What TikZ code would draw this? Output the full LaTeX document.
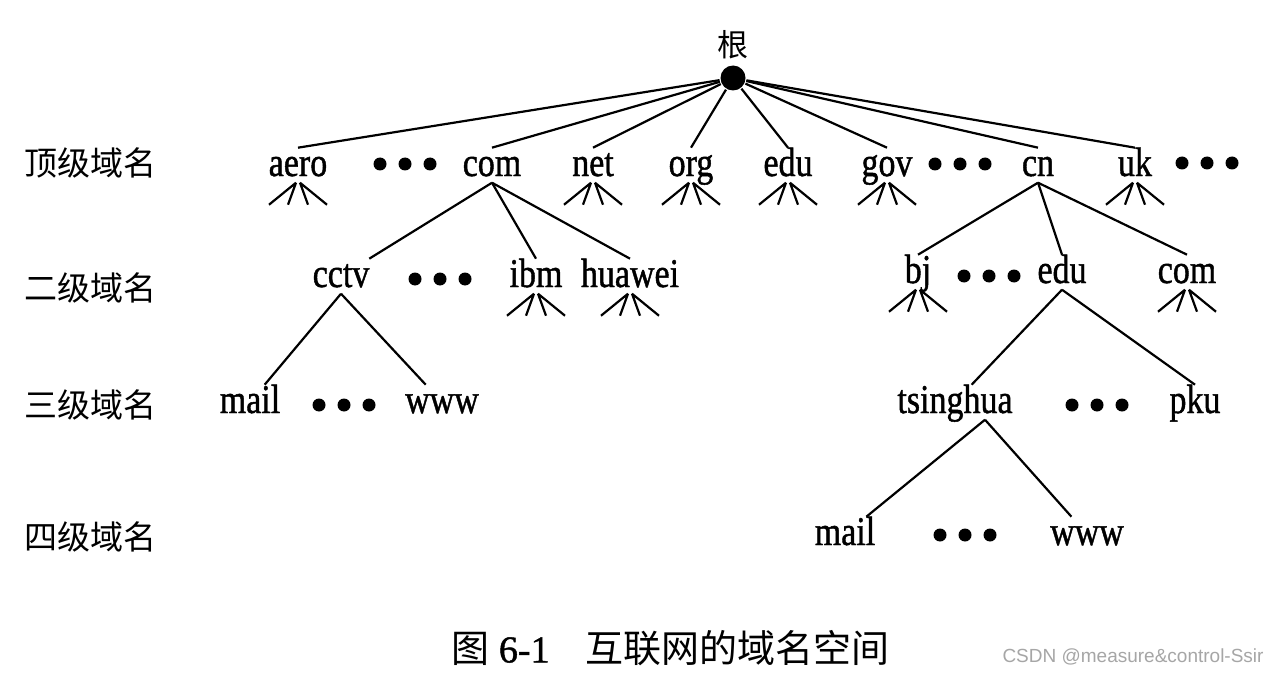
\documentclass[tikz,border=0pt]{standalone}
\usepackage{fontspec}
\setmainfont{Liberation Serif}
\newfontfamily\namefont{Liberation Serif}[FakeBold=1.2]
\newfontfamily\cjk{Noto Sans CJK SC}
\newfontfamily\markfont{Liberation Sans}

% little fan of unnamed subdomains under a node
\newcommand\fan[1]{%
  \draw ([xshift=-2pt]#1.south) -- +(-27,22) ([xshift=-2pt]#1.south) -- +(-8,22)
        ([xshift=2pt]#1.south) -- +(8,22) ([xshift=2pt]#1.south) -- +(27,22);}

\begin{document}
\begin{tikzpicture}[x=1pt,y=-1pt,line width=2.2pt,
  name node/.style={font=\namefont\fontsize{34}{34}\selectfont,yscale=1.2,inner sep=1.5pt,
    text height=21pt,text depth=3pt,anchor=base},
  level node/.style={font=\cjk\fontsize{33}{33}\selectfont}]

  \fill[white] (0,0) rectangle (1280,674);
  \useasboundingbox (0,0) rectangle (1280,674);

  \node[circle,fill,inner sep=0pt,minimum size=25pt] (root) at (733,78) {};
  \node[font=\cjk\fontsize{31}{31}\selectfont] (rootlabel) at (733,45) {根};

  % level names
  \node[level node] (l1) at (90,163) {顶级域名};
  \node[level node] (l2) at (90,288) {二级域名};
  \node[level node] (l3) at (90,405) {三级域名};
  \node[level node] (l4) at (90,537) {四级域名};

  % top level
  \node[name node] (aero) at (298,176) {aero};
  \node[name node] (com) at (492,176) {com};
  \node[name node] (net) at (593,176) {net};
  \node[name node] (org) at (691,176) {org};
  \node[name node] (edu) at (788,176) {edu};
  \node[name node] (gov) at (887,176) {gov};
  \node[name node] (cn) at (1038,176) {cn};
  \node[name node] (uk) at (1135,176) {uk};

  % second level
  \node[name node] (cctv) at (341,287) {cctv};
  \node[name node] (ibm) at (536,287) {ibm};
  \node[name node] (huawei) at (630,287) {huawei};
  \node[name node] (bj) at (918,283) {bj};
  \node[name node] (cnedu) at (1062,283) {edu};
  \node[name node] (cncom) at (1187,283) {com};

  % third level
  \node[name node] (mail) at (250,413) {mail};
  \node[name node] (www) at (442,413) {www};
  \node[name node] (tsinghua) at (955,413) {tsinghua};
  \node[name node] (pku) at (1195,413) {pku};

  % fourth level
  \node[name node] (mail2) at (845,545) {mail};
  \node[name node] (www2) at (1087,545) {www};

  \path
   (root) edge (aero.north) edge (com.north) edge (net.north) edge (org.north)
          edge (edu.north) edge (gov.north) edge (cn.north) edge (uk.north)
   (com.south) edge (cctv) edge (ibm.north) edge (huawei.north)
   (cn.south) edge (bj.north) edge (cnedu.north) edge (cncom.north)
   (cctv.south) edge (mail) edge (www)
   (cnedu.south) edge (tsinghua) edge (pku.north)
   ([xshift=30pt]tsinghua.south) edge (mail2) edge (www2);

  \foreach \n in {aero,net,org,edu,gov,uk,ibm,huawei,bj,cncom}
    {\fan{\n}}

  % ellipsis dots
  \foreach \x/\y in {405/164,960/164,1207/163,440/279,989/276,344/405,1097/405,965/535}
    \foreach \d in {-25,0,25}
      \fill (\x+\d,\y) circle (6.5pt);

  \node[anchor=west,font=\fontsize{38}{38}\selectfont] (caption) at (447,648)
    {{\cjk 图} {\namefont 6-1}\hspace{36pt}{\cjk 互联网的域名空间}};
  \node[anchor=east,font=\markfont\fontsize{19}{19}\selectfont,text=gray!70] (mark)
    at (1268,657) {CSDN @measure\&control-Ssir};
\end{tikzpicture}
\end{document}
